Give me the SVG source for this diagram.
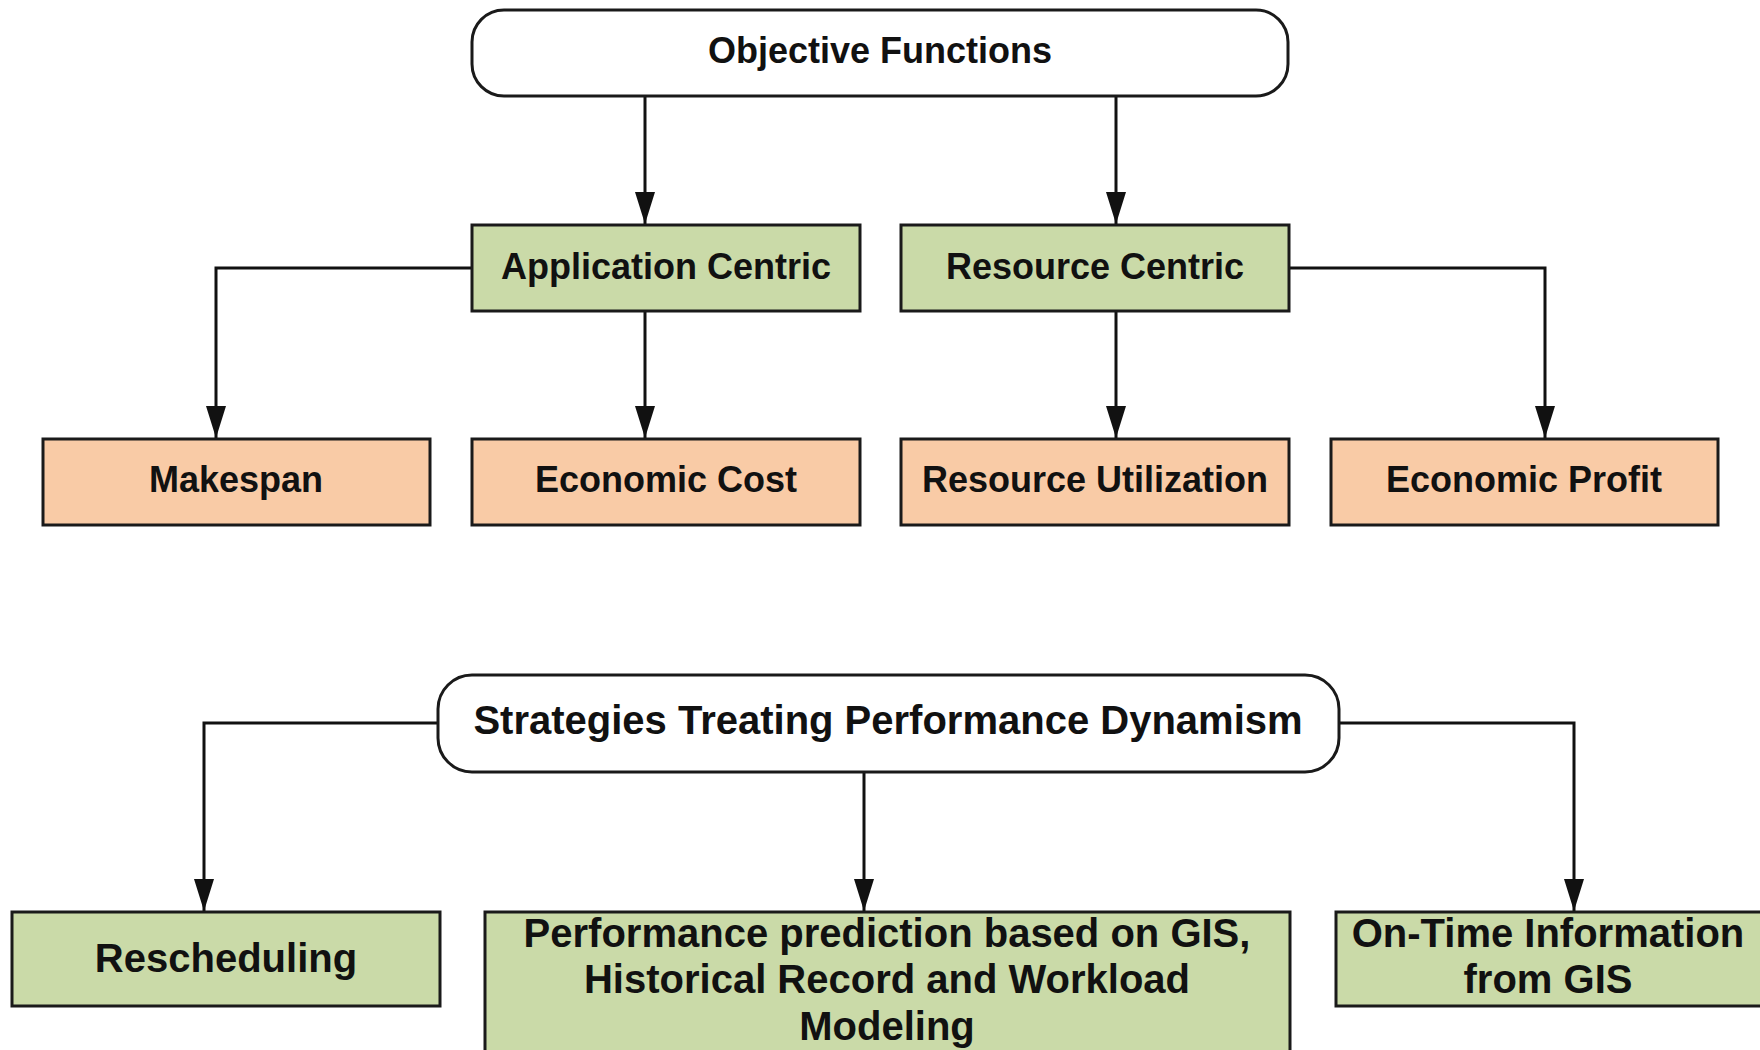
<svg xmlns="http://www.w3.org/2000/svg" width="1760" height="1050" viewBox="0 0 1760 1050">
  <style>
    .box { stroke: #1a1a1a; stroke-width: 3; }
    .root { fill: #ffffff; }
    .green { fill: #CADAA8; }
    .orange { fill: #F9CBA6; }
    .t36 { font-family: "Liberation Sans", Arial, sans-serif; font-weight: bold; font-size: 36px; fill: #111111; text-anchor: middle; }
    .t40 { font-family: "Liberation Sans", Arial, sans-serif; font-weight: bold; font-size: 40px; fill: #111111; text-anchor: middle; }
    .conn { fill: none; stroke: #111111; stroke-width: 3; marker-end: url(#arrow); }
  </style>
  <defs>
    <marker id="arrow" markerUnits="userSpaceOnUse" markerWidth="32" markerHeight="20" refX="32" refY="10" orient="auto">
      <path d="M0,0 L32,10 L0,20 z" fill="#111111"/>
    </marker>
  </defs>
  <rect width="1760" height="1050" fill="#ffffff"/>

  <g id="connectors">
    <path class="conn" d="M645,96 L645,224"/>
    <path class="conn" d="M1116,96 L1116,224"/>
    <path class="conn" d="M472,268 L216,268 L216,438"/>
    <path class="conn" d="M645,311 L645,438"/>
    <path class="conn" d="M1116,311 L1116,438"/>
    <path class="conn" d="M1289,268 L1545,268 L1545,438"/>
    <path class="conn" d="M438,723 L204,723 L204,911"/>
    <path class="conn" d="M864,772 L864,911"/>
    <path class="conn" d="M1339,723 L1574,723 L1574,911"/>
  </g>

  <g id="objective-functions">
    <rect class="box root" x="472" y="10" width="816" height="86" rx="32" ry="32"/>
    <text class="t36" x="880" y="63">Objective Functions</text>
  </g>
  <g id="application-centric">
    <rect class="box green" x="472" y="225" width="388" height="86"/>
    <text class="t36" x="666" y="279">Application Centric</text>
  </g>
  <g id="resource-centric">
    <rect class="box green" x="901" y="225" width="388" height="86"/>
    <text class="t36" x="1095" y="279">Resource Centric</text>
  </g>
  <g id="makespan">
    <rect class="box orange" x="43" y="439" width="387" height="86"/>
    <text class="t36" x="236" y="492">Makespan</text>
  </g>
  <g id="economic-cost">
    <rect class="box orange" x="472" y="439" width="388" height="86"/>
    <text class="t36" x="666" y="492">Economic Cost</text>
  </g>
  <g id="resource-utilization">
    <rect class="box orange" x="901" y="439" width="388" height="86"/>
    <text class="t36" x="1095" y="492">Resource Utilization</text>
  </g>
  <g id="economic-profit">
    <rect class="box orange" x="1331" y="439" width="387" height="86"/>
    <text class="t36" x="1524" y="492">Economic Profit</text>
  </g>

  <g id="strategies">
    <rect class="box root" x="438" y="675" width="901" height="97" rx="34" ry="34"/>
    <text class="t40" x="888" y="734">Strategies Treating Performance Dynamism</text>
  </g>
  <g id="rescheduling">
    <rect class="box green" x="12" y="912" width="428" height="94"/>
    <text class="t40" x="226" y="972">Rescheduling</text>
  </g>
  <g id="performance-prediction">
    <rect class="box green" x="485" y="912" width="805" height="150"/>
    <text class="t40" x="887" y="947">Performance prediction based on GIS,</text>
    <text class="t40" x="887" y="993">Historical Record and Workload</text>
    <text class="t40" x="887" y="1040">Modeling</text>
  </g>
  <g id="on-time-information">
    <rect class="box green" x="1336" y="912" width="430" height="94"/>
    <text class="t40" x="1548" y="947">On-Time Information</text>
    <text class="t40" x="1548" y="993">from GIS</text>
  </g>
</svg>
